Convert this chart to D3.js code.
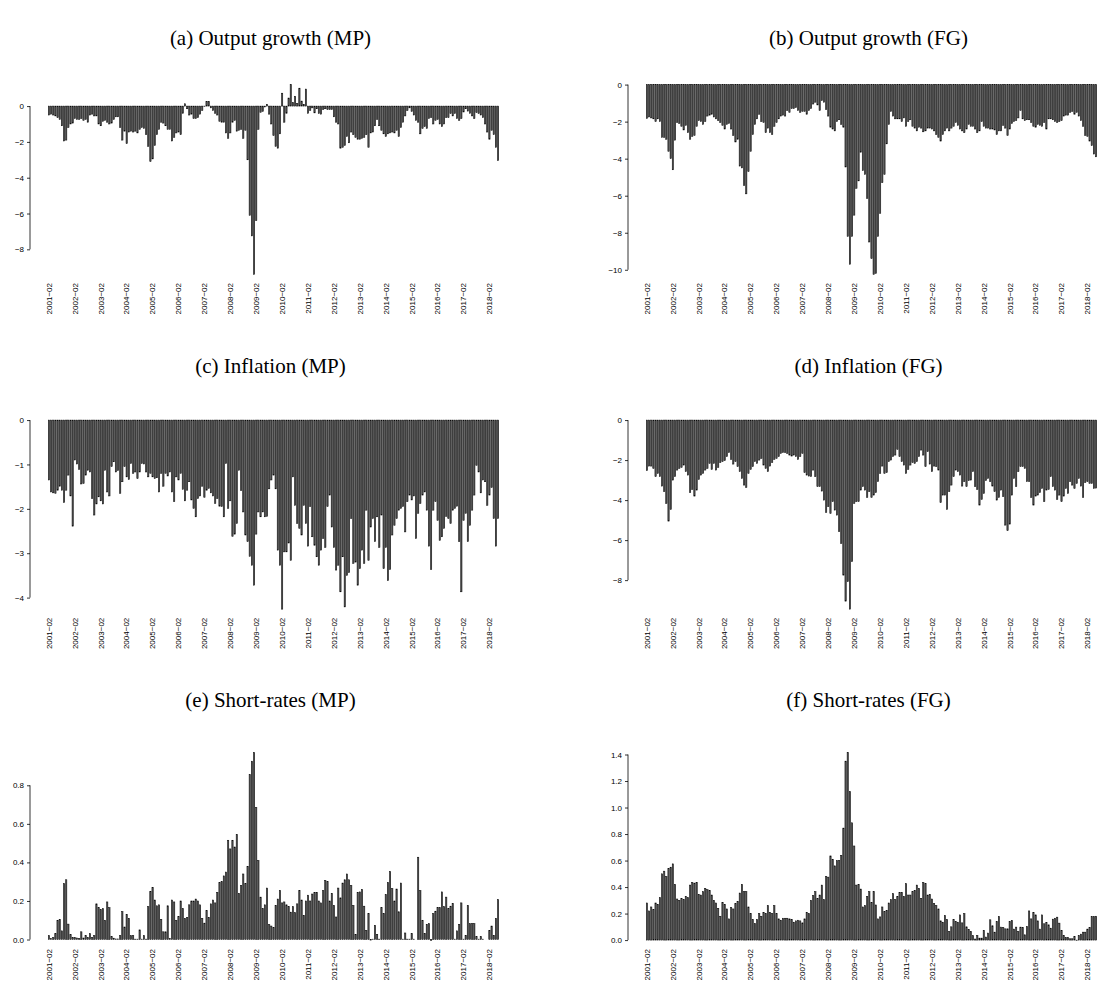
<!DOCTYPE html>
<html><head><meta charset="utf-8">
<script src="https://cdn.jsdelivr.net/npm/d3@7"></script>
<style>body{margin:0;background:#fff}svg{display:block}</style>
</head><body>
<svg id="chart" width="1097" height="982"></svg>
<script>
// ---- categories (monthly, 2001-02 .. 2018-06) ----
const months = [];
for (let y = 2001; y <= 2018; y++) for (let m = 1; m <= 12; m++) {
  if ((y === 2001 && m < 2) || (y === 2018 && m > 6)) continue;
  months.push(y + "-" + String(m).padStart(2, "0"));
}
const xTickLabels = ["2001-02","2002-02","2003-02","2004-02","2005-02","2006-02","2007-02","2008-02","2009-02",
  "2010-02","2011-02","2012-02","2013-02","2014-02","2015-02","2016-02","2017-02","2018-02"];

// ---- series ----
const outputMP = [
-0.5,-0.45,-0.5,-0.55,-0.65,-0.75,-1.1,-1.95,-1.9,-1.2,
-1.0,-0.95,-0.7,-0.75,-0.75,-0.7,-0.8,-0.75,-0.9,-0.5,
-0.45,-0.55,-0.55,-1.0,-1.1,-0.85,-0.8,-0.9,-1.0,-0.95,
-0.75,-0.6,-0.6,-1.2,-1.9,-1.4,-2.1,-1.45,-1.4,-1.45,
-1.4,-1.5,-1.3,-1.2,-1.25,-1.6,-2.25,-3.1,-2.95,-2.2,
-1.6,-1.3,-0.9,-0.95,-1.1,-1.3,-1.3,-1.95,-1.75,-1.5,
-1.45,-1.6,-0.4,0.13,-0.15,-0.5,-0.45,-0.7,-0.7,-0.65,
-0.45,-0.25,-0.02,0.25,0.25,-0.1,-0.25,-0.4,-0.5,-0.85,
-0.9,-0.9,-1.5,-1.8,-1.5,-0.9,-0.8,-1.4,-1.35,-1.3,
-1.8,-1.35,-3.0,-6.1,-7.25,-9.4,-6.4,-1.3,-0.35,-0.3,
-0.05,0.1,-0.45,-1.0,-1.65,-2.25,-2.35,-1.55,0.72,-0.9,
-0.4,0.45,1.2,0.2,0.55,0.15,1.0,0.28,0.1,0.95,
-0.4,-0.25,-0.1,-0.38,-0.15,-0.42,-0.45,-0.2,-0.15,-0.2,
-0.2,-0.2,-0.6,-0.9,-1.0,-2.35,-2.3,-2.2,-1.7,-2.05,
-1.45,-1.6,-1.75,-1.85,-1.85,-1.8,-1.75,-1.6,-2.3,-1.5,
-1.45,-1.1,-0.75,-1.1,-1.35,-1.55,-1.7,-1.55,-1.5,-1.45,
-1.5,-1.35,-1.7,-1.2,-0.9,-0.55,-0.25,-0.1,-0.3,-0.5,
-0.8,-0.9,-1.55,-1.25,-1.15,-1.25,-0.7,-0.65,-1.0,-0.8,
-0.75,-1.0,-1.15,-1.0,-0.65,-0.65,-0.42,-0.55,-0.42,-0.7,
-0.8,-0.7,-0.33,-0.15,-0.28,-0.4,-0.55,-0.7,-0.37,-0.42,
-0.5,-0.65,-1.0,-1.45,-1.85,-1.35,-1.6,-2.3,-3.05];

const outputFG = [
-1.83,-1.75,-1.8,-1.85,-2.0,-1.85,-2.0,-2.85,-2.85,-2.95,
-3.6,-4.0,-4.6,-3.0,-2.05,-2.1,-2.25,-2.45,-2.2,-2.6,
-2.95,-2.8,-2.75,-2.25,-1.95,-2.0,-2.15,-2.0,-1.7,-1.65,
-1.6,-1.75,-1.85,-1.95,-2.05,-2.2,-2.4,-2.15,-2.1,-2.4,
-2.75,-3.1,-2.95,-4.4,-4.5,-5.45,-5.9,-4.7,-3.6,-2.7,
-2.15,-1.85,-1.6,-2.0,-2.05,-2.6,-2.35,-2.6,-2.7,-2.25,
-2.05,-1.85,-1.7,-1.65,-1.7,-1.4,-1.5,-1.3,-1.3,-1.25,
-1.4,-1.5,-1.45,-1.45,-1.6,-1.4,-1.3,-1.05,-0.95,-1.1,
-1.4,-0.87,-0.95,-1.35,-1.7,-2.3,-2.4,-2.5,-2.0,-1.9,
-2.15,-2.3,-4.45,-8.2,-9.7,-8.2,-7.05,-5.6,-5.2,-3.65,
-4.65,-4.85,-6.15,-8.5,-9.4,-10.25,-10.2,-8.2,-6.95,-5.3,
-4.85,-3.2,-2.15,-1.45,-1.7,-1.85,
-1.85,-1.85,-2.0,-1.8,-2.25,-2.0,-1.9,-2.25,-2.35,-2.5,
-2.3,-2.35,-2.55,-2.5,-2.35,-2.35,-2.4,-2.5,-2.7,-2.85,
-3.05,-2.7,-2.5,-2.35,-2.5,-2.35,-2.25,-2.05,-2.2,-2.4,
-2.5,-2.6,-2.4,-2.15,-2.25,-2.25,-2.4,-2.6,-2.5,-2.0,
-2.25,-2.35,-2.35,-2.4,-2.4,-2.45,-2.7,-2.5,-2.5,-2.2,
-2.35,-2.75,-2.4,-2.1,-2.0,-1.95,-1.8,-1.4,-1.85,-1.95,
-1.9,-1.9,-2.05,-2.25,-2.3,-2.15,-2.2,-2.25,-2.05,-2.4,
-1.85,-1.85,-1.9,-2.0,-2.05,-2.0,-1.95,-1.7,-1.65,-1.65,
-1.5,-1.45,-1.6,-1.5,-1.7,-1.95,-2.25,-2.75,-2.8,-3.05,
-3.3,-3.75,-3.9];

const inflationMP = [
-1.35,-1.62,-1.64,-1.65,-1.58,-1.49,-1.58,-1.86,-1.58,-1.24,
-1.71,-2.39,-0.9,-0.99,-1.11,-1.44,-1.43,-1.24,-1.13,-1.17,
-1.77,-2.14,-1.89,-1.73,-1.82,-1.89,-1.13,-1.62,-1.71,-1.05,
-0.94,-1.17,-1.14,-1.65,-1.39,-1.05,-1.28,-1.34,-0.98,-1.2,
-1.17,-1.32,-1.17,-0.98,-0.99,-1.17,-1.28,-1.2,-1.28,-1.32,
-1.3,
-1.62,-1.2,-1.49,-1.2,-1.26,-1.17,-1.62,-1.84,-1.28,-1.35,
-1.2,-1.56,-1.82,-1.58,-1.39,-1.8,-1.99,-2.18,-1.77,-1.71,
-1.49,-1.74,-1.58,-1.54,-1.64,-1.71,-1.88,-1.77,-1.94,-1.95,
-2.18,-0.98,-1.99,-1.82,-2.62,-2.57,-2.33,-1.13,-1.59,-2.07,
-2.59,-2.74,-3.07,-3.27,-3.72,-2.57,-2.07,-2.18,-2.07,-2.18,-2.17,
-1.55,-1.35,-1.24,-1.55,-2.93,-3.27,-4.26,-2.97,-2.97,-2.77,-3.16,-1.28,
-1.92,-2.33,-2.44,-2.59,-1.92,-2.33,-2.84,-1.95,-2.63,-2.82,
-3.08,-3.27,-2.93,-2.67,-2.87,-1.95,-1.69,-2.41,-2.87,-3.38,
-3.27,-3.87,-3.08,-4.21,-3.5,-3.44,-2.22,-3.23,-3.2,-3.72,
-3.35,-2.93,-3.23,-2.03,-3.16,-2.41,-2.22,-2.74,-2.18,-2.87,
-2.14,-3.35,-2.87,-3.62,-3.37,-2.59,-2.37,-2.22,-2.03,-1.99,
-1.95,-2.52,-1.84,-1.69,-1.8,-1.71,-2.67,-2.1,-1.88,-1.69,
-1.62,-2.03,-2.84,-3.37,-2.03,-1.84,-2.26,-2.71,-2.63,-2.44,
-2.17,-2.22,-2.33,-2.03,-1.99,-1.94,-2.74,-3.87,-2.26,-2.1,
-2.74,-2.37,-2.03,-1.69,-1.02,-1.17,-1.64,-1.35,-1.39,-1.92,
-1.69,-1.52,-2.22,-2.84,-2.22];

const inflationFG = [
-2.53,-2.3,-2.3,-2.42,-2.83,-2.67,-2.83,-3.3,-3.58,-4.17,
-5.05,-4.47,-3.0,-2.83,-2.5,-2.42,-2.37,-2.25,-2.58,-2.75,
-3.63,-3.47,-3.8,-3.5,-2.97,-2.75,-2.67,-2.5,-2.42,-2.17,
-2.47,-2.17,-2.5,-2.37,-2.13,-2.08,-2.03,-1.83,-1.63,-1.97,
-2.2,-2.08,-2.33,-2.58,-2.92,-3.25,-3.37,-2.67,-2.47,-2.33,
-2.08,-2.17,-2.0,-1.92,-2.25,-2.42,-2.58,-2.3,-2.13,-1.97,
-1.92,-1.83,-1.67,-1.63,-1.63,-1.67,-1.75,-1.8,-1.75,-1.83,
-1.97,-1.83,-1.67,-2.63,-2.75,-2.8,-2.83,-2.5,-2.83,-3.33,
-3.33,-3.55,-4.0,-4.62,-4.33,-4.67,-4.08,-4.5,-4.75,-5.58,
-6.17,-7.75,-9.05,-8.08,-9.45,-7.08,-4.17,-4.08,
-4.08,-3.5,-3.33,-3.5,-3.87,-3.58,-3.87,-3.75,-3.63,-3.08,
-2.67,-2.3,-2.67,-2.63,-2.08,-2.0,-1.83,-1.75,-1.47,-1.83,
-2.08,-2.25,-2.67,-2.47,-2.25,-2.13,-2.17,-2.08,-1.83,-1.5,
-1.75,-2.33,-1.58,-2.2,-2.58,-2.3,-2.33,-2.5,-4.13,-3.75,
-3.75,-4.47,-3.58,-3.25,-2.83,-2.5,-2.58,-2.75,-3.3,-3.08,
-3.33,-3.03,-3.0,-2.58,-3.33,-3.47,-4.25,-3.97,-3.67,-3.03,
-2.92,-3.08,-3.3,-3.58,-4.0,-3.87,-3.5,-3.83,-5.25,-5.53,
-5.2,-3.75,-2.92,-3.33,-2.58,-2.33,-2.33,-2.42,-3.08,-3.08,
-3.87,-4.25,-3.8,-3.75,-3.63,-3.42,-4.08,-3.5,-3.47,-2.83,
-3.33,-3.5,-3.97,-3.75,-4.08,-3.8,-3.42,-3.67,-3.08,-3.25,
-3.42,-3.17,-2.92,-3.3,-3.87,-3.13,-3.08,-3.17,-3.17,-3.42,
-3.4];

const shortMP = [
0.02,0.005,0.01,0.03,0.1,0.105,0.045,0.29,0.31,0.08,
0.025,0.01,0.01,0.008,0.005,0.04,0.008,0.02,0.01,0.03,
0.01,0.02,0.185,0.165,0.155,0.16,0.1,0.195,0.165,0.015,
0.007,0.003,0.003,0.02,0.145,0.065,0.13,0.11,0.02,0.02,
0.002,0.002,0.05,0.002,0.02,0.002,0.17,0.25,0.27,0.205,
0.175,0.18,0.105,0.04,0.04,0.175,0.005,0.205,0.195,0.1,
0.12,0.2,0.16,0.11,0.115,0.18,0.2,0.2,0.21,0.2,
0.18,0.11,0.085,0.15,0.115,0.185,0.205,0.19,0.245,0.295,
0.3,0.33,0.35,0.515,0.47,0.515,0.48,0.545,0.24,0.28,
0.34,0.29,0.38,0.855,0.925,0.97,0.685,
0.41,0.22,0.16,0.18,0.267,0.077,0.07,0.062,0.177,0.21,
0.255,0.19,0.195,0.18,0.17,0.142,0.17,0.139,0.185,0.255,
0.205,0.125,0.2,0.23,0.2,0.236,0.245,0.245,0.2,0.19,
0.253,0.307,0.3,0.2,0.24,0.177,0.117,0.267,0.216,0.293,
0.31,0.34,0.31,0.28,0.177,0.027,0.245,0.247,0.26,0.173,
0.048,0.135,-0.003,0.002,0.074,0.027,0.002,0.165,0.134,0.233,
0.296,0.353,0.264,0.2,0.262,0.144,0.293,0.002,0.034,0.002,
0.002,0.031,0.002,0.0,0.427,0.254,0.1,0.031,0.079,0.082,
-0.005,0.134,0.147,0.165,0.165,0.247,0.17,0.22,0.161,0.173,
0.187,0.002,0.045,0.079,0.19,0.002,0.022,0.177,0.082,0.082,
0.082,0.015,0.002,0.015,0.002,0.0,0.0,0.048,0.07,0.022,
0.11,0.207];

const shortFG = [
0.28,0.22,0.25,0.23,0.28,0.27,0.32,0.5,0.52,0.48,
0.54,0.55,0.575,0.42,0.31,0.3,0.315,0.305,0.33,0.32,
0.415,0.435,0.43,0.435,0.345,0.34,0.365,0.39,0.38,0.375,
0.34,0.3,0.28,0.24,0.18,0.285,0.27,0.235,0.16,0.245,
0.235,0.275,0.29,0.355,0.42,0.365,0.365,0.25,0.2,0.155,
0.125,0.155,0.2,0.18,0.21,0.2,0.26,0.21,0.2,0.26,
0.2,0.16,0.15,0.165,0.165,0.165,0.16,0.155,0.135,0.145,
0.15,0.145,0.13,0.16,0.21,0.2,0.3,0.335,0.365,0.315,
0.34,0.415,0.305,0.48,0.475,0.635,0.61,0.56,0.6,0.6,
0.64,0.845,1.35,1.415,1.12,0.885,0.71,0.415,
0.42,0.385,0.25,0.26,0.33,0.365,0.285,0.365,0.265,0.16,
0.175,0.25,0.215,0.225,0.28,0.305,0.35,0.305,0.33,0.36,
0.36,0.33,0.425,0.34,0.34,0.365,0.375,0.415,0.39,0.315,
0.435,0.425,0.34,0.345,0.31,0.275,0.26,0.235,0.145,0.135,
0.185,0.155,0.065,0.1,0.155,0.14,0.135,0.19,0.13,0.2,
0.1,0.08,0.065,0.033,0.008,0.035,0.015,0.015,0.073,0.023,
0.053,0.153,0.108,0.06,0.14,0.178,0.098,0.095,0.085,0.085,
0.14,0.148,0.083,0.098,0.065,0.098,0.095,0.04,0.103,0.22,
0.16,0.21,0.19,0.145,0.083,0.19,0.123,0.133,0.115,0.09,
0.158,0.165,0.173,0.128,0.073,0.035,0.02,0.02,0.01,0.01,
0.028,-0.003,0.035,0.045,0.06,0.06,0.083,0.095,0.178,0.178,
0.18];

const titles = ["(a) Output growth (MP)","(b) Output growth (FG)","(c) Inflation (MP)",
  "(d) Inflation (FG)","(e) Short-rates (MP)","(f) Short-rates (FG)"];
const yTicksA = [0,-2,-4,-6,-8];
const yTicksB = [0,-2,-4,-6,-8,-10];
const yTicksC = [0,-1,-2,-3,-4];
const yTicksD = [0,-2,-4,-6,-8];
const yTicksE = [0,0.2,0.4,0.6,0.8];
const yTicksF = [0,0.2,0.4,0.6,0.8,1.0,1.2,1.4];

// ---- layout ----
const cols = [{x0: 30, x1: 517}, {x0: 628, x1: 1115}];
const rows = [{top: 77, bottom: 282, titleY: 45}, {top: 412.5, bottom: 616.7, titleY: 373}, {top: 745, bottom: 948, titleY: 707}];

const panels = [
  {title: titles[0], data: outputMP,   ticks: yTicksA, fmt: d3.format("d"),   c: 0, r: 0},
  {title: titles[1], data: outputFG,   ticks: yTicksB, fmt: d3.format("d"),   c: 1, r: 0},
  {title: titles[2], data: inflationMP,ticks: yTicksC, fmt: d3.format("d"),   c: 0, r: 1},
  {title: titles[3], data: inflationFG,ticks: yTicksD, fmt: d3.format("d"),   c: 1, r: 1},
  {title: titles[4], data: shortMP,    ticks: yTicksE, fmt: d3.format(".1f"), c: 0, r: 2},
  {title: titles[5], data: shortFG,    ticks: yTicksF, fmt: d3.format(".1f"), c: 1, r: 2}
];

const svg = d3.select("#chart");
svg.append("rect").attr("width", 1097).attr("height", 982).attr("fill", "#fff");

panels.forEach(p => {
  const col = cols[p.c], row = rows[p.r];
  const n = months.length;
  const x = d3.scaleBand().domain(months).range([col.x0, col.x1])
    .paddingInner(0.2 / 1.2).paddingOuter(0.04 * (1.2 * n - 0.2) / 1.2);
  const lo = Math.min(0, d3.min(p.data)), hi = Math.max(0, d3.max(p.data));
  const pad = 0.04 * (hi - lo);
  const y = d3.scaleLinear().domain([lo - pad, hi + pad]).range([row.bottom, row.top]);

  const g = svg.append("g");
  // title
  g.append("text").attr("x", (col.x0 + col.x1) / 2 - 3).attr("y", row.titleY)
    .attr("text-anchor", "middle").attr("font-family", "Liberation Serif, Times New Roman, serif")
    .attr("font-size", 21).attr("fill", "#000").text(p.title);

  // bars
  const bw = x.bandwidth();
  const sw = 0.5;
  g.append("g").selectAll("rect").data(p.data.map((v, i) => ({v, m: months[i]}))).join("rect")
    .attr("x", d => x(d.m) + sw / 2)
    .attr("width", bw - sw)
    .attr("y", d => Math.min(y(d.v), y(0)))
    .attr("height", d => Math.abs(y(d.v) - y(0)))
    .attr("fill", "#505050").attr("stroke", "#000").attr("stroke-width", sw);

  // y axis
  const ax = g.append("g").attr("transform", `translate(${col.x0},0)`)
    .call(d3.axisLeft(y).tickValues(p.ticks).tickFormat(p.fmt).tickSize(3).tickPadding(3));
  ax.select(".domain").attr("d", `M0,${y(d3.max(p.ticks))}V${y(d3.min(p.ticks))}`).attr("stroke", "#000").attr("stroke-width", 0.8);
  ax.selectAll(".tick line").attr("stroke", "#000").attr("stroke-width", 0.8);
  ax.selectAll(".tick text").attr("font-family", "Liberation Sans, Arial, sans-serif").attr("font-size", 8).attr("fill", "#000");

  // x labels (every February)
  const labelIdx = xTickLabels.map(l => months.indexOf(l));
  g.append("g").selectAll("text").data(labelIdx).join("text")
    .attr("transform", i => `translate(${x(months[i]) + bw / 2},${row.bottom + 1}) rotate(-90)`)
    .attr("dy", "0.35em").attr("text-anchor", "end")
    .attr("font-family", "Liberation Sans, Arial, sans-serif").attr("font-size", 8).attr("fill", "#000")
    .text(i => months[i].replace("-", "\u2212"));
});
</script>
</body></html>
